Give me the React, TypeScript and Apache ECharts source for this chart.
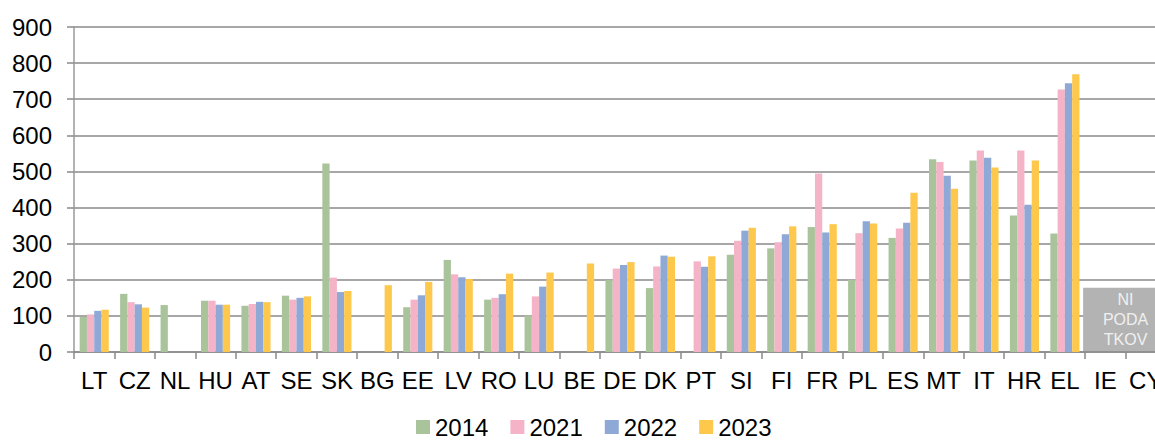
import React, { useEffect, useRef } from "react";
import * as echarts from "echarts";

const categories = ["LT","CZ","NL","HU","AT","SE","SK","BG","EE","LV","RO","LU","BE","DE","DK","PT","SI","FI","FR","PL","ES","MT","IT","HR","EL","IE","CY"];
const years = ["2014", "2021", "2022", "2023"];
const v2014 = [97,161,130,142,128,156,522,null,124,255,145,101,null,200,177,null,269,287,346,200,316,534,530,378,328,null,null];
const v2021 = [104,138,null,142,133,145,206,null,145,215,150,154,null,231,237,251,308,304,494,329,342,526,558,558,727,null,null];
const v2022 = [114,132,null,131,139,150,166,null,157,207,160,181,null,241,267,236,336,326,331,362,358,488,538,408,744,null,null];
const v2023 = [117,123,null,131,138,154,169,185,194,202,217,220,245,249,264,265,344,348,354,356,441,452,511,530,769,null,null];
const noDataCategory = "IE";
const noDataHeight = 178;
const noDataLabel = "NI\nPODA\nTKOV";
const yTicks = { min: 0, max: 900, interval: 100 };

const colors = ["#A9C49B", "#F4B3C6", "#8FA9D6", "#FEC84D"];
const FONT = "'Liberation Sans', Arial, sans-serif";

export default function App() {
  const ref = useRef<HTMLDivElement>(null);
  useEffect(() => {
    if (!ref.current) return;
    const chart = echarts.init(ref.current, undefined, { renderer: "svg" });
    const valuesList = [v2014, v2021, v2022, v2023];
    const barSeries = years.map((y, i) => ({
      name: y,
      type: "bar",
      data: valuesList[i],
      barGap: "0%",
      barCategoryGap: "28%",
      itemStyle: { color: colors[i] },
    }));
    chart.setOption({
      animation: false,
      textStyle: { fontFamily: FONT },
      grid: { left: 74, top: 27, width: 1092, height: 325, containLabel: false },
      legend: {
        data: years,
        left: 416,
        top: 414,
        padding: 0,
        itemWidth: 14,
        itemHeight: 14,
        itemGap: 22,
        icon: "rect",
        textStyle: { fontSize: 24, lineHeight: 26, color: "#000", fontFamily: FONT },
      },
      xAxis: {
        type: "category",
        data: categories,
        axisLine: { show: true, lineStyle: { color: "#8a8a8a", width: 1.5 } },
        axisTick: { show: true, interval: 0, length: 7, lineStyle: { color: "#8a8a8a", width: 1.5 } },
        axisLabel: { interval: 0, fontSize: 24, color: "#000", margin: 16, fontFamily: FONT },
      },
      yAxis: {
        type: "value",
        min: yTicks.min,
        max: yTicks.max,
        interval: yTicks.interval,
        axisLine: { show: true, lineStyle: { color: "#9a9a9a", width: 1.5 } },
        axisTick: { show: true, length: 7, lineStyle: { color: "#8a8a8a", width: 1.5 } },
        splitLine: { show: true, lineStyle: { color: "#8a8a8a", width: 1.5 } },
        axisLabel: { fontSize: 24, color: "#000", margin: 22, fontFamily: FONT },
      },
      series: [
        ...barSeries,
        {
          type: "custom",
          name: "noData",
          data: [[noDataCategory, noDataHeight]],
          z: 5,
          renderItem: (params: any, api: any) => {
            const base = api.coord([api.value(0), 0]);
            const top = api.coord([api.value(0), api.value(1)]);
            const bw = api.size([1, 0])[0];
            const x0 = base[0] - bw / 2 - 2;
            const w = bw * 2 + 2;
            return {
              type: "group",
              children: [
                {
                  type: "rect",
                  shape: { x: x0, y: top[1], width: w, height: base[1] - top[1] - 1 },
                  style: { fill: "#B3B3B3" },
                },
                {
                  type: "text",
                  x: base[0] + bw / 2,
                  y: (top[1] + base[1]) / 2,
                  style: {
                    text: noDataLabel,
                    fill: "#F0F0F0",
                    fontSize: 16,
                    lineHeight: 20,
                    fontFamily: FONT,
                    align: "center",
                    verticalAlign: "middle",
                  },
                },
              ],
            };
          },
        },
      ],
    });
    return () => chart.dispose();
  }, []);
  return (
    <div style={{ position: "absolute", left: 0, top: 0, width: 1155, height: 441, overflow: "hidden", background: "#fff" }}>
      <div ref={ref} style={{ width: 1200, height: 441 }} />
    </div>
  );
}
